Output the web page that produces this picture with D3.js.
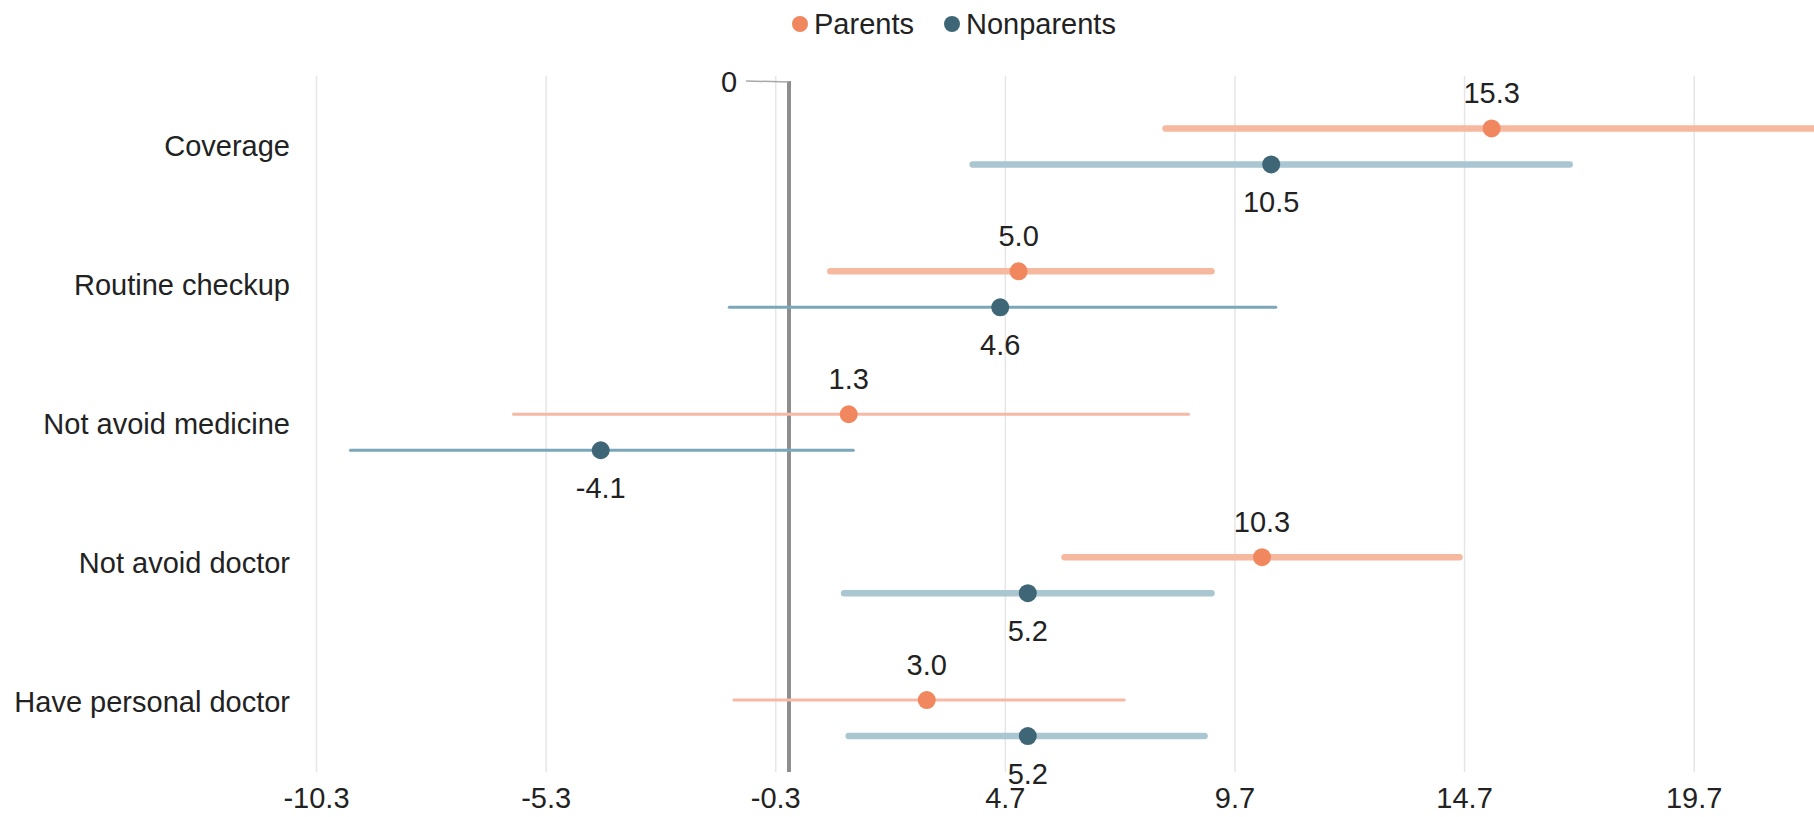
<!DOCTYPE html>
<html>
<head>
<meta charset="utf-8">
<script src="https://cdn.jsdelivr.net/npm/d3@7"></script>
<style>
  html, body { margin: 0; padding: 0; background: #fff; }
  svg { display: block; font-family: "Liberation Sans", Arial, Helvetica, sans-serif; }
</style>
</head>
<body>
<svg id="chart" width="1814" height="817"></svg>
<script>
// ---- data ----
const categories = ["Coverage", "Routine checkup", "Not avoid medicine", "Not avoid doctor", "Have personal doctor"];
const seriesNames = ["Parents", "Nonparents"];
const parentsEstimate = [15.3, 5.0, 1.3, 10.3, 3.0];
const parentsLow      = [8.2, 0.9, -6.0, 6.0, -1.2];
const parentsHigh     = [22.6, 9.2, 8.7, 14.6, 7.3];
const parentsSignificant = [true, true, false, true, false];
const nonparentsEstimate = [10.5, 4.6, -4.1, 5.2, 5.2];
const nonparentsLow      = [4.0, -1.3, -9.55, 1.2, 1.3];
const nonparentsHigh     = [17.0, 10.6, 1.4, 9.2, 9.05];
const nonparentsSignificant = [true, false, false, true, true];
const tickValues = [-10.3, -5.3, -0.3, 4.7, 9.7, 14.7, 19.7];
const xDomain = [-10.3, 22.32];

// ---- layout / style ----
const W = 1814, H = 817;
const plotLeft = 316, plotRight = 1814, plotTop = 76, plotBottom = 772;
const fontSize = 29;
const colors = {
  Parents:    { dot: "#f0875f", thick: "#f7b8a0", thin: "#f5b9a5" },
  Nonparents: { dot: "#3e6677", thick: "#a9c6d1", thin: "#7ba7b8" }
};
const fmt = v => d3.format(".1f")(v).replace("\u2212", "-");

const svg = d3.select("#chart");

const x = d3.scaleLinear().domain(xDomain).range([plotLeft, plotRight]);
// labels band scale
const yLabel = d3.scaleBand().domain(categories).range([plotTop, plotBottom]);
// rows band scale for the intervals
const yRow = d3.scaleBand().domain(categories).range([75, 75 + 5 * 142.9]);
const seriesOffset = d3.scaleOrdinal().domain(seriesNames).range([-18, 18]);

// clip
svg.append("defs").append("clipPath").attr("id", "plotclip")
  .append("rect").attr("x", 0).attr("y", 0).attr("width", plotRight).attr("height", H);

// gridlines via axis
const grid = svg.append("g")
  .attr("transform", `translate(0,${plotBottom})`)
  .call(d3.axisBottom(x).tickValues(tickValues).tickSize(-(plotBottom - plotTop)).tickFormat(fmt));
grid.select(".domain").remove();
grid.selectAll(".tick line").attr("stroke", "#e6e6e6").attr("stroke-width", 1.5);
grid.selectAll(".tick text")
  .attr("fill", "#222")
  .attr("font-size", fontSize)
  .attr("dy", null)
  .attr("y", 26)
  .attr("dominant-baseline", "central")
  .attr("font-family", "Liberation Sans, Arial, sans-serif");

// category labels
const yAxis = svg.append("g")
  .attr("transform", `translate(290,0)`)
  .call(d3.axisLeft(yLabel).tickSize(0).tickPadding(0));
yAxis.select(".domain").remove();
yAxis.selectAll(".tick text")
  .attr("fill", "#222")
  .attr("font-size", fontSize)
  .attr("dy", null)
  .attr("dominant-baseline", "central")
  .attr("font-family", "Liberation Sans, Arial, sans-serif");

// zero line
svg.append("line")
  .attr("x1", x(0)).attr("x2", x(0))
  .attr("y1", 81).attr("y2", plotBottom)
  .attr("stroke", "#8e8e8e").attr("stroke-width", 4);
svg.append("line")
  .attr("x1", x(0) - 43).attr("y1", 81)
  .attr("x2", x(0)).attr("y2", 82)
  .attr("stroke", "#a8a8a8").attr("stroke-width", 1.5);
svg.append("text")
  .attr("x", x(0) - 60).attr("y", 82)
  .attr("text-anchor", "middle").attr("dominant-baseline", "central")
  .attr("font-size", fontSize).attr("fill", "#222")
  .text("0");

// build rows
const rows = [];
categories.forEach((c, i) => {
  rows.push({ cat: c, series: "Parents", est: parentsEstimate[i], lo: parentsLow[i], hi: parentsHigh[i], sig: parentsSignificant[i] });
  rows.push({ cat: c, series: "Nonparents", est: nonparentsEstimate[i], lo: nonparentsLow[i], hi: nonparentsHigh[i], sig: nonparentsSignificant[i] });
});
const rowY = d => yRow(d.cat) + yRow.bandwidth() / 2 + seriesOffset(d.series);

const marks = svg.append("g").attr("clip-path", "url(#plotclip)");
marks.selectAll("line.ci").data(rows).join("line")
  .attr("class", "ci")
  .attr("x1", d => x(d.lo)).attr("x2", d => x(d.hi))
  .attr("y1", rowY).attr("y2", rowY)
  .attr("stroke", d => d.sig ? colors[d.series].thick : colors[d.series].thin)
  .attr("stroke-width", d => d.sig ? 6.5 : 3)
  .attr("stroke-linecap", "round");

marks.selectAll("circle.pt").data(rows).join("circle")
  .attr("class", "pt")
  .attr("cx", d => x(d.est)).attr("cy", rowY)
  .attr("r", 9)
  .attr("fill", d => colors[d.series].dot);

svg.selectAll("text.val").data(rows).join("text")
  .attr("class", "val")
  .attr("x", d => x(d.est))
  .attr("y", d => rowY(d) + (d.series === "Parents" ? -35 : 38))
  .attr("text-anchor", "middle").attr("dominant-baseline", "central")
  .attr("font-size", fontSize).attr("fill", "#222")
  .text(d => fmt(d.est));

// legend
const legendX = [800, 952];
const leg = svg.append("g").selectAll("g").data(seriesNames).join("g")
  .attr("transform", (d, i) => `translate(${legendX[i]},24)`);
leg.append("circle").attr("r", 8).attr("fill", d => colors[d].dot);
leg.append("text").attr("x", 14).attr("dominant-baseline", "central")
  .attr("font-size", fontSize).attr("fill", "#222").text(d => d);
</script>
</body>
</html>
